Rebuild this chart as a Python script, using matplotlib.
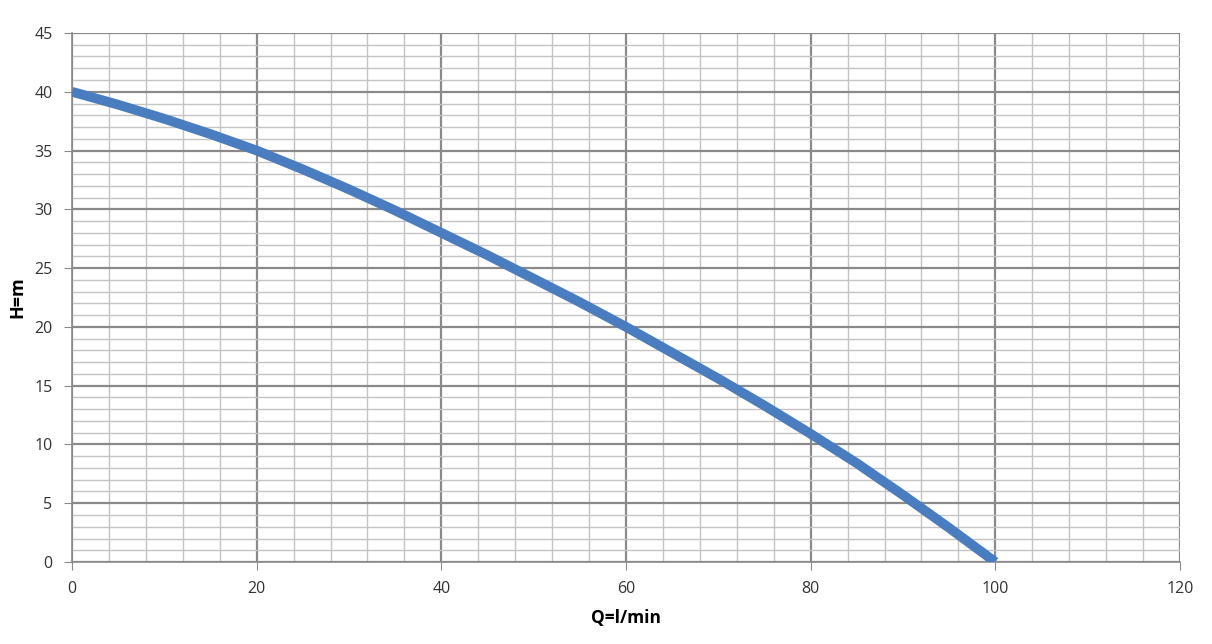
import numpy as np
import matplotlib.pyplot as plt
from matplotlib.ticker import MultipleLocator

# pump curve
flow = [0, 5, 10, 15, 20, 25, 30, 35, 40, 45, 50, 55, 60, 65, 70, 75, 80, 85, 90, 95, 100]
head = [40, 38.9, 37.7, 36.4, 35, 33.4, 31.7, 29.9, 28, 26.1, 24.1, 22.1, 20, 17.8, 15.6, 13.3, 10.9, 8.4, 5.7, 2.9, 0]

x_label = 'Q=l/min'
y_label = 'H=m'


def main():
    plt.rcParams['font.family'] = ['Open Sans', 'DejaVu Sans']
    fig = plt.figure(figsize=(12.12, 6.44), dpi=100)
    ax = fig.add_axes([0.0594, 0.1273, 0.9142, 0.8215])

    ax.plot(flow, head, color='#4a7cc0', linewidth=7, solid_capstyle='butt',
            solid_joinstyle='round', zorder=3)

    ax.set_xlim(0, 120)
    ax.set_ylim(0, 45)
    ax.xaxis.set_major_locator(MultipleLocator(20))
    ax.xaxis.set_minor_locator(MultipleLocator(4))
    ax.yaxis.set_major_locator(MultipleLocator(5))
    ax.yaxis.set_minor_locator(MultipleLocator(1))

    ax.grid(which='major', color='#8a8a8a', linewidth=1.6)
    ax.grid(which='minor', color='#c4c4c4', linewidth=1.0)
    ax.set_axisbelow(True)

    for side in ['top', 'right']:
        ax.spines[side].set_visible(False)
    for side in ['left', 'bottom']:
        ax.spines[side].set_color('#8a8a8a')
        ax.spines[side].set_linewidth(1.2)

    ax.tick_params(which='major', direction='out', length=6, color='#8a8a8a',
                   labelsize=11.5, labelcolor='#333333', pad=8)
    ax.tick_params(which='minor', length=0)

    ax.set_xlabel(x_label, fontsize=12.5, fontweight='bold', labelpad=8)
    ax.set_ylabel(y_label, fontsize=13, fontweight='bold', labelpad=6)

    fig.savefig('out.png', dpi=100, facecolor='white')


if __name__ == '__main__':
    main()
